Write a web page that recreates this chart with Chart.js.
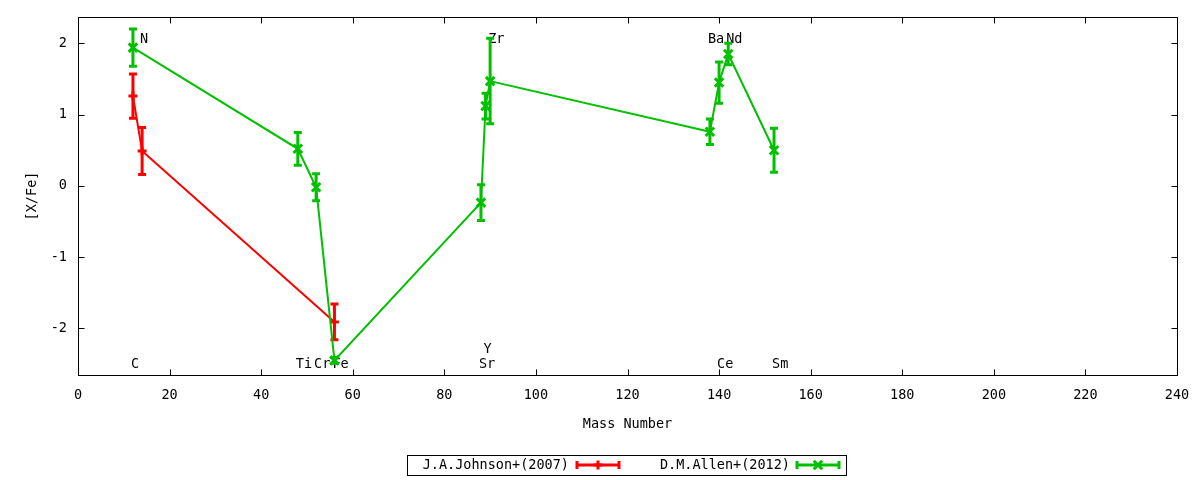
<!DOCTYPE html>
<html>
<head>
<meta charset="utf-8">
<title>[X/Fe] vs Mass Number</title>
<script src="https://cdn.jsdelivr.net/npm/chart.js@4/dist/chart.umd.min.js"></script>
<style>
  html, body { margin: 0; padding: 0; background: #fff; }
  #wrap { width: 1200px; height: 480px; position: relative; }
</style>
</head>
<body>
<div id="wrap"><canvas id="abund"></canvas></div>
<script>
// J.A.Johnson+(2007)
const johnsonMass = [12, 14, 56];
const johnsonXFe  = [1.26, 0.49, -1.91];
const johnsonErr  = [0.31, 0.33, 0.25];

// D.M.Allen+(2012)
const allenMass = [12, 48, 52, 56, 88, 89, 90, 138, 140, 142, 152];
const allenXFe  = [1.94, 0.52, -0.02, -2.45, -0.235, 1.12, 1.47, 0.76, 1.45, 1.85, 0.50];
const allenErr  = [0.26, 0.23, 0.19, 0.04, 0.25, 0.18, 0.60, 0.18, 0.29, 0.15, 0.31];

// element labels (name, mass, [X/Fe] where text sits)
const elemNames = ["C", "N", "Ti", "Cr", "Fe", "Sr", "Y", "Zr", "Ba", "Ce", "Nd", "Sm"];
const elemMass  = [12, 14, 48, 52, 56, 88, 89, 90, 138, 140, 142, 152];
const elemPosY  = [-2.51, 2.06, -2.51, -2.51, -2.51, -2.51, -2.3, 2.06, 2.06, -2.51, 2.06, -2.51];

const xTicks = [0, 20, 40, 60, 80, 100, 120, 140, 160, 180, 200, 220, 240];
const yTicks = [-2, -1, 0, 1, 2];

const FONT = "'DejaVu Sans Mono', monospace";
const RED = "#ff0000";
const GREEN = "#00c000";

function toPoints(xs, ys) {
  return xs.map((x, i) => ({ x: x, y: ys[i] }));
}

// labels under the data, like gnuplot
const elementLabels = {
  id: "elementLabels",
  beforeDatasetsDraw(chart) {
    const { ctx, scales } = chart;
    ctx.save();
    ctx.font = "13.5px " + FONT;
    ctx.fillStyle = "#000";
    ctx.textAlign = "left";
    ctx.textBaseline = "middle";
    elemNames.forEach((name, i) => {
      const px = scales.x.getPixelForValue(elemMass[i]) - 2;
      const py = scales.y.getPixelForValue(elemPosY[i]);
      ctx.fillText(name, px, py);
    });
    ctx.restore();
  }
};

// vertical error bars with caps
const errorBars = {
  id: "errorBars",
  afterDatasetDraw(chart, args) {
    const ds = chart.data.datasets[args.index];
    if (!ds.errors) return;
    const { ctx, scales } = chart;
    ctx.save();
    ctx.strokeStyle = ds.borderColor;
    ctx.lineWidth = 3;
    ds.data.forEach((p, i) => {
      const px = scales.x.getPixelForValue(p.x);
      const top = scales.y.getPixelForValue(p.y + ds.errors[i]);
      const bot = scales.y.getPixelForValue(p.y - ds.errors[i]);
      ctx.beginPath();
      ctx.moveTo(px, top); ctx.lineTo(px, bot);
      ctx.moveTo(px - 4, top); ctx.lineTo(px + 4, top);
      ctx.moveTo(px - 4, bot); ctx.lineTo(px + 4, bot);
      ctx.stroke();
    });
    ctx.restore();
  }
};

// box border, inward mirrored ticks and the boxed key
const frameAndKey = {
  id: "frameAndKey",
  afterDraw(chart) {
    const { ctx, chartArea: a, scales } = chart;
    ctx.save();
    ctx.strokeStyle = "#000";
    ctx.lineWidth = 1;
    const L = Math.round(a.left) + 0.5, R = Math.round(a.right) + 0.5;
    const T = Math.round(a.top) + 0.5, B = Math.round(a.bottom) + 0.5;
    ctx.strokeRect(L, T, R - L, B - T);
    ctx.beginPath();
    xTicks.forEach(v => {
      const px = Math.round(scales.x.getPixelForValue(v)) + 0.5;
      ctx.moveTo(px, B); ctx.lineTo(px, B - 6);
      ctx.moveTo(px, T); ctx.lineTo(px, T + 6);
    });
    yTicks.forEach(v => {
      const py = Math.round(scales.y.getPixelForValue(v)) + 0.5;
      ctx.moveTo(L, py); ctx.lineTo(L + 6, py);
      ctx.moveTo(R, py); ctx.lineTo(R - 6, py);
    });
    ctx.stroke();

    // key
    ctx.strokeRect(407.5, 455.5, 439, 20);
    ctx.font = "13.5px " + FONT;
    ctx.fillStyle = "#000";
    ctx.textAlign = "right";
    ctx.textBaseline = "middle";
    const keyY = 465;
    const entries = [
      { textRight: 569, x0: 577, x1: 619 },
      { textRight: 790, x0: 797, x1: 839 }
    ];
    chart.data.datasets.forEach((ds, i) => {
      const e = entries[i];
      ctx.fillText(ds.label, e.textRight, keyY);
      ctx.strokeStyle = ds.borderColor;
      ctx.lineWidth = 3;
      ctx.beginPath();
      ctx.moveTo(e.x0, keyY); ctx.lineTo(e.x1, keyY);
      ctx.moveTo(e.x0, keyY - 4); ctx.lineTo(e.x0, keyY + 4);
      ctx.moveTo(e.x1, keyY - 4); ctx.lineTo(e.x1, keyY + 4);
      ctx.stroke();
      Chart.helpers.drawPoint(ctx, {
        pointStyle: ds.pointStyle,
        radius: ds.pointRadius,
        borderWidth: 3
      }, (e.x0 + e.x1) / 2, keyY);
      ctx.strokeStyle = "#000";
      ctx.lineWidth = 1;
    });
    ctx.restore();
  }
};

new Chart(document.getElementById("abund"), {
  type: "line",
  data: {
    datasets: [
      {
        label: "J.A.Johnson+(2007)",
        data: toPoints(johnsonMass, johnsonXFe),
        errors: johnsonErr,
        borderColor: RED,
        backgroundColor: RED,
        borderWidth: 2,
        pointStyle: "cross",
        pointRadius: 4.5,
        pointBorderWidth: 3,
        tension: 0,
        order: 1
      },
      {
        label: "D.M.Allen+(2012)",
        data: toPoints(allenMass, allenXFe),
        errors: allenErr,
        borderColor: GREEN,
        backgroundColor: GREEN,
        borderWidth: 2,
        pointStyle: "crossRot",
        pointRadius: 6,
        pointBorderWidth: 3,
        tension: 0,
        order: 0
      }
    ]
  },
  options: {
    responsive: true,
    maintainAspectRatio: false,
    devicePixelRatio: 1,
    animation: false,
    layout: { padding: { top: 17, right: 23, left: 0, bottom: 0 } },
    plugins: {
      legend: { display: false },
      tooltip: { enabled: false }
    },
    scales: {
      x: {
        type: "linear",
        min: 0,
        max: 240,
        afterBuildTicks: s => { s.ticks = xTicks.map(v => ({ value: v })); },
        afterFit: s => { s.height = 105; s.paddingLeft = 0; s.paddingRight = 0; },
        grid: { display: false, drawTicks: false },
        border: { display: false },
        ticks: {
          color: "#000",
          padding: 12,
          maxRotation: 0,
          font: { family: FONT, size: 13.5 }
        },
        title: {
          display: true,
          text: "Mass Number",
          color: "#000",
          font: { family: FONT, size: 13.5 },
          padding: { top: 0, bottom: 47 }
        }
      },
      y: {
        type: "linear",
        min: -2.655,
        max: 2.37,
        afterBuildTicks: s => { s.ticks = yTicks.map(v => ({ value: v })); },
        afterFit: s => { s.width = 78; s.paddingTop = 0; s.paddingBottom = 0; },
        grid: { display: false, drawTicks: false },
        border: { display: false },
        ticks: {
          color: "#000",
          padding: 11,
          font: { family: FONT, size: 13.5 }
        },
        title: {
          display: true,
          text: "[X/Fe]",
          color: "#000",
          font: { family: FONT, size: 13.5 },
          padding: { top: 24, bottom: 0 }
        }
      }
    }
  },
  plugins: [elementLabels, errorBars, frameAndKey]
});
</script>
</body>
</html>
